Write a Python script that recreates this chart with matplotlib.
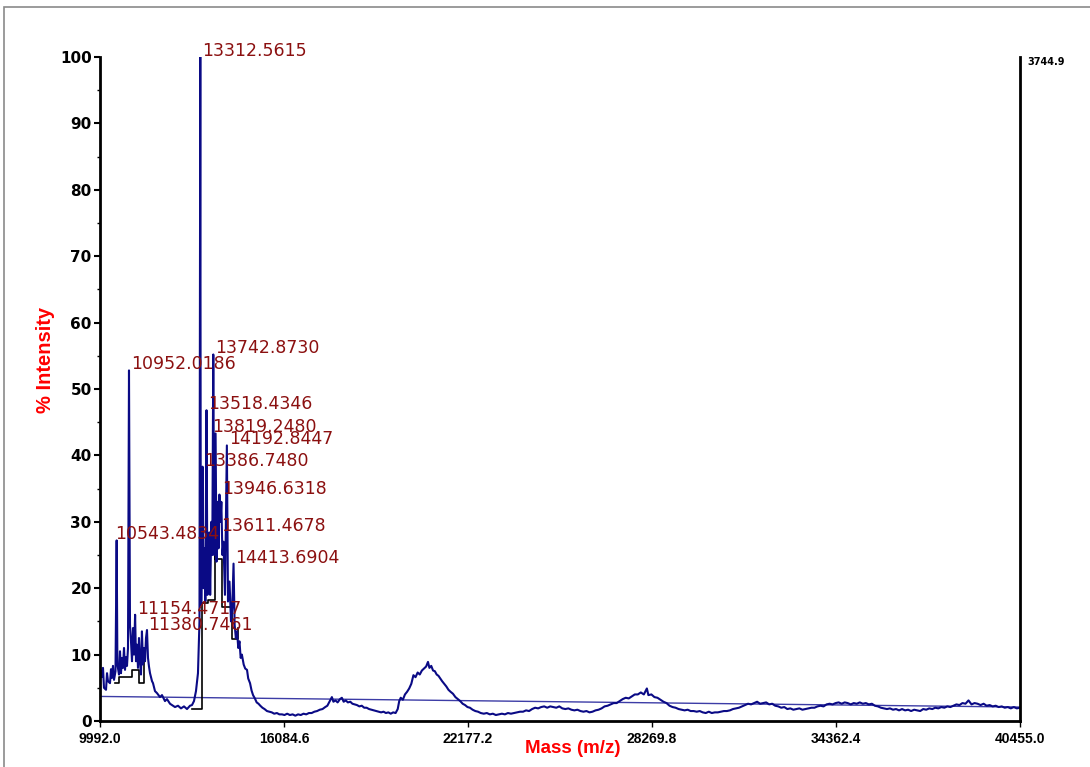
import numpy as np
import matplotlib
matplotlib.use("Agg")
import matplotlib.pyplot as plt
from matplotlib import font_manager
from matplotlib.patches import Rectangle
from matplotlib.ticker import MultipleLocator

# labelled peaks (m/z, % intensity)
peak_mass = [10543.4834, 10952.0186, 11154.4717, 11380.7461, 13312.5615, 13386.7480,
             13518.4346, 13611.4678, 13742.8730, 13819.2480, 13946.6318, 14192.8447,
             14413.6904]
peak_int = [27.2, 52.8, 16.0, 13.5, 100.0, 38.3, 46.8, 28.4, 55.2, 43.3, 34.1, 41.5, 23.7]

# low-mass cluster below 13.3k
left_mass = [9992, 10042, 10091, 10124, 10191, 10224, 10257, 10323, 10356, 10389, 10422,
             10456, 10505, 10568, 10621, 10654, 10687, 10720, 10753, 10787, 10820, 10853,
             10886, 10919, 10985, 11018, 11052, 11085, 11118, 11184, 11217, 11250, 11283,
             11316, 11349, 11416, 11449, 11482, 11515, 11548, 11581, 11614, 11648, 11714,
             11747, 11813, 11879, 11979, 12045, 12144, 12210, 12310, 12376, 12475, 12575,
             12674, 12773, 12873, 12972, 13038, 13104, 13170, 13236, 13286]
left_int = [8.1, 6.6, 8.0, 5.0, 4.7, 7.2, 6.0, 5.7, 7.8, 6.5, 8.3,
            6.2, 7.5, 8.5, 7.0, 10.5, 7.2, 9.5, 8.0, 11.0, 7.7, 9.6,
            8.3, 11.0, 14.5, 12.0, 9.0, 14.0, 10.0, 9.0, 11.5, 8.0, 12.5,
            9.0, 7.0, 8.5, 11.0, 9.0, 12.5, 13.7, 9.5, 8.2, 7.2, 6.0,
            5.7, 4.5, 4.2, 3.6, 3.9, 3.0, 3.3, 2.6, 2.4, 2.1, 2.3,
            1.9, 2.2, 1.8, 2.3, 2.4, 3.0, 4.5, 7.2, 15.0]

# main cluster 13.3k - 14.7k (valleys between labelled peaks)
cluster_mass = [13330, 13355, 13420, 13450, 13480, 13550, 13580, 13640, 13680, 13710,
                13775, 13850, 13885, 13915, 13980, 14010, 14045, 14080, 14130, 14230,
                14280, 14330, 14370, 14450, 14490, 14530, 14570, 14610, 14650, 14690]
cluster_int = [17.5, 18.0, 20.0, 26.0, 18.0, 19.0, 24.0, 19.0, 30.0, 25.0,
               25.0, 24.0, 33.0, 26.0, 30.0, 33.0, 25.0, 27.0, 19.0, 18.0,
               21.0, 15.0, 17.0, 14.5, 12.5, 13.5, 11.0, 12.0, 9.5, 10.0]

# broad high-mass envelope
tail_mass = [14750, 14800, 14860, 14900, 14960, 15010, 15060, 15120, 15180, 15240, 15300,
             15370, 15440, 15520, 15600, 15680, 15760, 15850, 15930, 16020, 16100, 16190,
             16280, 16370, 16460, 16550, 16640, 16730, 16820, 16910, 17000, 17090, 17180,
             17270, 17360, 17450, 17520, 17600, 17670, 17720, 17790, 17860, 17940, 18000,
             18060, 18130, 18200, 18280, 18350, 18430, 18500, 18580, 18660, 18740, 18820,
             18900, 18980, 19060, 19140, 19220, 19300, 19380, 19460, 19540, 19620, 19700,
             19780, 19850, 19900, 19950, 20020, 20090, 20160, 20230, 20300, 20370, 20440,
             20510, 20580, 20650, 20720, 20790, 20852, 20900, 20960, 21020, 21080, 21140,
             21200, 21260, 21320, 21390, 21460, 21530, 21600, 21680, 21760, 21840, 21920,
             22000, 22080, 22160, 22240, 22330, 22420, 22510, 22600, 22700, 22800, 22900,
             23000, 23100, 23200, 23300, 23400, 23500, 23600, 23700, 23800, 23900, 24000,
             24100, 24200, 24300, 24400, 24500, 24600, 24700, 24800, 24900, 25000, 25100,
             25200, 25300, 25400, 25500, 25600, 25700, 25800, 25900, 26000, 26100, 26200,
             26300, 26400, 26500, 26600, 26700, 26800, 26900, 27000, 27100, 27200, 27300,
             27400, 27500, 27600, 27700, 27800, 27900, 28000, 28100, 28150, 28250, 28350,
             28450, 28550, 28650, 28750, 28850, 28950, 29050, 29150, 29250, 29350, 29450,
             29550, 29650, 29750, 29850, 29950, 30050, 30150, 30250, 30350, 30450, 30550,
             30650, 30750, 30850, 30950, 31050, 31150, 31250, 31350, 31450, 31550, 31650,
             31750, 31850, 31950, 32050, 32150, 32250, 32350, 32450, 32550, 32650, 32750,
             32850, 32950, 33050, 33150, 33250, 33350, 33450, 33550, 33650, 33750, 33850,
             33950, 34050, 34150, 34250, 34350, 34450, 34550, 34650, 34750, 34850, 34950,
             35050, 35150, 35250, 35350, 35450, 35550, 35650, 35750, 35850, 35950, 36050,
             36150, 36250, 36350, 36450, 36550, 36650, 36750, 36850, 36950, 37050, 37150,
             37250, 37350, 37450, 37550, 37650, 37750, 37850, 37950, 38050, 38150, 38250,
             38350, 38450, 38550, 38650, 38750, 38850, 38950, 39050, 39150, 39250, 39350,
             39450, 39550, 39650, 39750, 39850, 39950, 40050, 40150, 40250, 40350, 40455]
tail_int = [8.5, 7.9, 7.7, 6.4, 5.7, 4.6, 3.9, 3.4, 2.8, 2.6, 2.3,
            2.0, 1.8, 1.5, 1.4, 1.3, 1.1, 1.2, 1.0, 1.0, 0.9, 1.1,
            0.9, 1.0, 0.8, 1.0, 0.9, 1.1, 1.0, 1.2, 1.2, 1.4, 1.5,
            1.7, 1.8, 2.1, 2.3, 3.0, 3.6, 2.9, 3.1, 2.8, 3.3, 3.5,
            2.9, 3.1, 2.8, 2.9, 2.6, 2.5, 2.4, 2.2, 2.3, 2.0, 2.0,
            1.8, 1.7, 1.6, 1.5, 1.4, 1.3, 1.4, 1.2, 1.3, 1.1, 1.3,
            1.2, 1.8, 3.0, 3.5, 3.2, 4.0, 4.4, 4.9, 5.6, 6.9, 6.6,
            7.3, 7.0, 7.6, 7.9, 8.2, 8.9, 8.0, 8.3, 7.6, 7.5, 7.0,
            6.8, 6.4, 6.0, 5.6, 5.2, 4.7, 4.4, 4.1, 3.6, 3.3, 3.0,
            2.6, 2.4, 2.1, 2.0, 1.7, 1.5, 1.4, 1.2, 1.1, 1.2, 1.0,
            1.1, 0.9, 1.0, 1.1, 1.0, 1.2, 1.1, 1.2, 1.3, 1.4, 1.4,
            1.6, 1.5, 1.8, 2.0, 1.9, 2.1, 2.2, 2.0, 2.2, 2.1, 2.0,
            2.2, 1.9, 1.8, 1.9, 1.7, 1.6, 1.7, 1.5, 1.4, 1.5, 1.3,
            1.4, 1.6, 1.7, 1.9, 2.2, 2.3, 2.5, 2.7, 2.7, 3.0, 3.3,
            3.5, 3.4, 3.7, 4.0, 4.0, 4.3, 4.0, 4.9, 3.9, 4.0, 3.6,
            3.5, 3.2, 2.9, 2.7, 2.3, 2.1, 2.0, 1.8, 1.7, 1.6, 1.7,
            1.5, 1.5, 1.4, 1.5, 1.3, 1.2, 1.4, 1.2, 1.3, 1.3, 1.4,
            1.5, 1.5, 1.6, 1.8, 1.9, 2.0, 2.2, 2.4, 2.6, 2.5, 2.7,
            2.9, 2.6, 2.7, 2.8, 2.5, 2.6, 2.3, 2.2, 2.0, 2.1, 1.8,
            1.9, 1.7, 1.8, 1.9, 1.7, 1.8, 1.9, 2.0, 2.0, 2.2, 2.3,
            2.2, 2.5, 2.6, 2.5, 2.7, 2.8, 2.6, 2.8, 2.7, 2.5, 2.7,
            2.6, 2.8, 2.6, 2.7, 2.5, 2.6, 2.3, 2.2, 2.0, 1.9, 1.8,
            1.9, 1.7, 1.8, 1.6, 1.8, 1.6, 1.7, 1.5, 1.7, 1.6, 1.5,
            1.8, 1.7, 1.9, 1.8, 2.0, 1.9, 2.1, 2.0, 2.2, 2.1, 2.3,
            2.5, 2.4, 2.7, 2.6, 3.1, 2.5, 2.7, 2.6, 2.4, 2.6, 2.3,
            2.4, 2.2, 2.3, 2.1, 2.2, 2.0, 2.1, 1.9, 2.1, 1.9, 2.0]

# peak integration outlines
box1_mass = [10489, 10621, 10621, 11052, 11052, 11283, 11283, 11449, 11449]
box1_int = [5.7, 5.7, 6.6, 6.6, 7.7, 7.7, 5.7, 5.7, 11.0]
box2_mass = [13038, 13355, 13355, 13584, 13584, 13800, 13800, 13800, 14021, 14021,
             14352, 14352, 14561, 14561]
box2_int = [1.8, 1.8, 17.7, 17.7, 18.2, 18.2, 36.0, 24.4, 24.4, 17.2,
            17.2, 12.3, 12.3, 14.0]

# fitted baseline
base_mass = [9992.0, 40455.0]
base_int = [3.7, 2.1]

x_ticks = [9992.0, 16084.6, 22177.2, 28269.8, 34362.4, 40455.0]
max_counts = "3744.9"

# narrow font for the mass axis if the system has one
installed = {f.name for f in font_manager.fontManager.ttflist}
if "Liberation Sans Narrow" in installed:
    narrow, tick_size, xlab_size = "Liberation Sans Narrow", 11, 15
else:
    narrow, tick_size, xlab_size = "Liberation Sans", 10, 13.5

mass = np.array(left_mass + cluster_mass + tail_mass + peak_mass)
inten = np.array(left_int + cluster_int + tail_int + peak_int)
order = np.argsort(mass)
mass, inten = mass[order], inten[order]

fig = plt.figure(figsize=(10.9, 7.67), dpi=100)
ax = fig.add_axes([100 / 1090, 46 / 767, 920 / 1090, 664 / 767])

ax.plot(base_mass, base_int, color="#3c3ca6", lw=1.0)
ax.plot(box1_mass, box1_int, color="black", lw=1.2)
ax.plot(box2_mass, box2_int, color="black", lw=1.2)
ax.plot(mass, inten, color="#0a0a85", lw=1.5)

# label offsets in pixels (x shift)
label_dx = [-2, 2, 2, 6, 2, 2, 2, 12, 2, -3, 3, 2, 2]
for m, v, dx in zip(peak_mass, peak_int, label_dx):
    ax.annotate("%.4f" % m, (m, v), xytext=(dx, 6), textcoords="offset pixels",
                ha="left", va="center", color="#8b1010", fontsize=12.5,
                family="DejaVu Sans")

ax.set_xlim(9992.0, 40455.0)
ax.set_ylim(0, 100)
ax.set_xticks(x_ticks)
ax.set_xticklabels(["%.1f" % t for t in x_ticks])
ax.yaxis.set_major_locator(MultipleLocator(10))
ax.yaxis.set_minor_locator(MultipleLocator(5))

for lab in ax.get_yticklabels():
    lab.set_fontweight("bold")
    lab.set_fontsize(11)
    lab.set_family("DejaVu Sans")
for lab in ax.get_xticklabels():
    lab.set_fontweight("bold")
    lab.set_fontsize(tick_size)
    lab.set_family([narrow, "DejaVu Sans"])

ax.tick_params(axis="y", which="major", length=4, width=1.5, pad=2)
ax.tick_params(axis="y", which="minor", length=2, width=1)
ax.tick_params(axis="x", length=4, width=1, pad=4)

ax.spines["top"].set_visible(False)
for s in ["left", "bottom", "right"]:
    ax.spines[s].set_linewidth(2)

ax.set_ylabel("% Intensity", color="red", fontsize=14.5, fontweight="bold",
              family=["Liberation Sans", "DejaVu Sans"])
ax.yaxis.set_label_coords(-0.049, 0.544)
ax.set_xlabel("Mass (m/z)", color="red", fontsize=xlab_size, fontweight="bold",
              family=[narrow, "DejaVu Sans"])
ax.xaxis.set_label_coords(0.514, -0.029)

ax.text(1.008, 1.0, max_counts, transform=ax.transAxes, ha="left", va="top",
        fontsize=7, fontweight="bold", family="DejaVu Sans")

# outer frame
fig.patches.append(Rectangle((4 / 1090, -0.1), 2.0, 0.1 + 760 / 767,
                             transform=fig.transFigure, fill=False,
                             edgecolor="#8a8a8a", lw=1.2))

fig.savefig("out.png", dpi=100)
